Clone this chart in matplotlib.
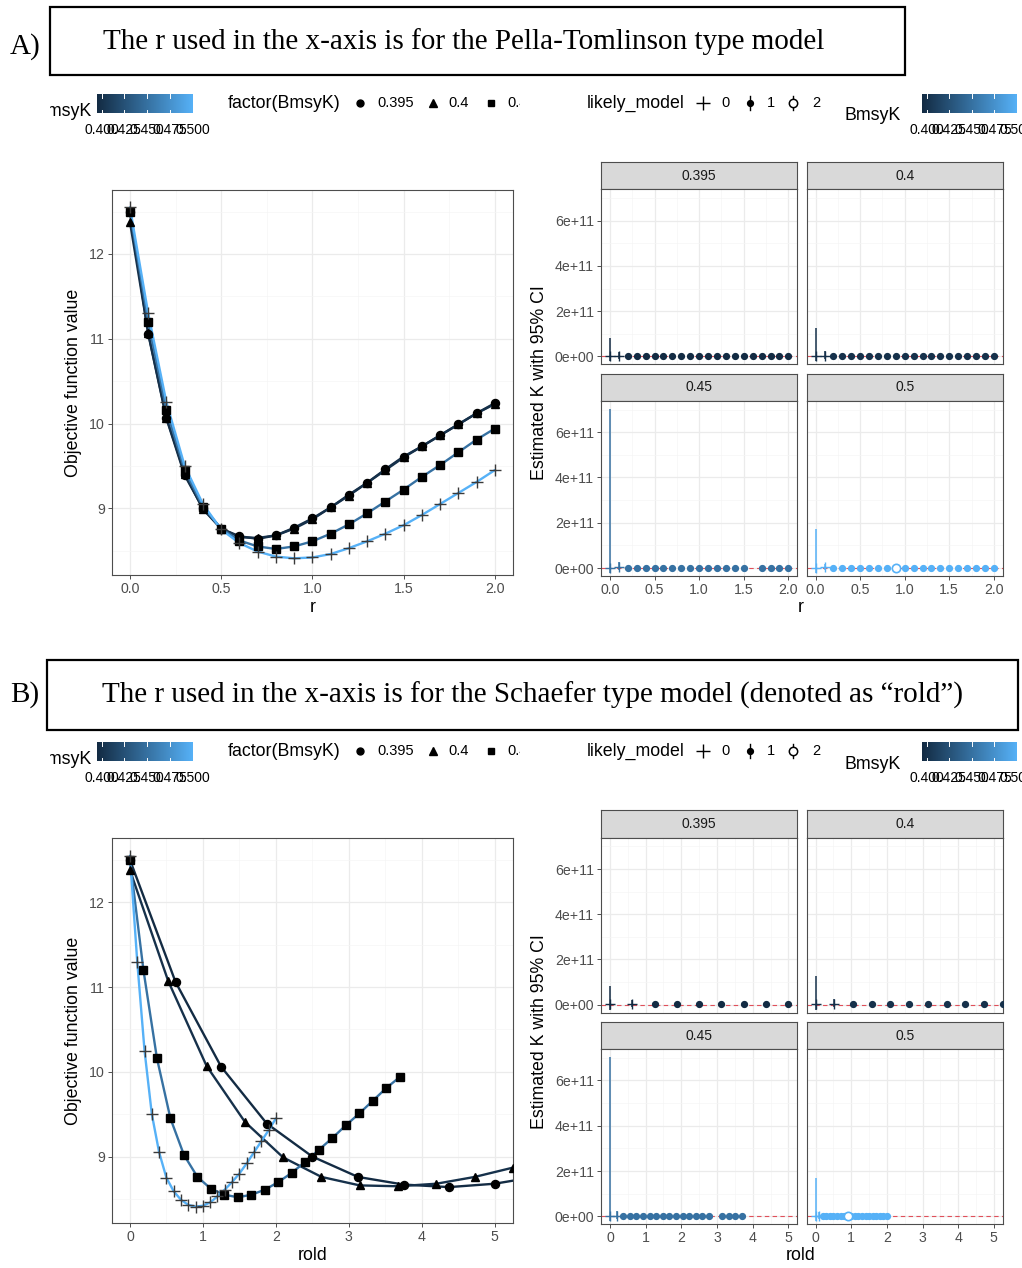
import numpy as np
import matplotlib

matplotlib.use("Agg")
import matplotlib.pyplot as plt
from matplotlib.colors import LinearSegmentedColormap, Normalize
from matplotlib.patches import Rectangle

W, H = 1022, 1268
plt.rcParams["font.family"] = ["Liberation Sans", "DejaVu Sans"]

# ---- data ---------------------------------------------------------------
BMSYK = [0.395, 0.4, 0.45, 0.5]
BMSYK_LABELS = ["0.395", "0.4", "0.45", "0.5"]
SHAPES = ["o", "^", "s", "+"]

R_GRID = [0.0, 0.1, 0.2, 0.3, 0.4, 0.5, 0.6, 0.7, 0.8, 0.9, 1.0,
          1.1, 1.2, 1.3, 1.4, 1.5, 1.6, 1.7, 1.8, 1.9, 2.0]

# r of the Schaefer model ("rold") for each BmsyK
ROLD_0395 = [0.0, 0.625, 1.25, 1.875, 2.5, 3.125, 3.75, 4.375, 5.0, 5.625, 6.25,
             6.875, 7.5, 8.125, 8.75, 9.375, 10.0, 10.625, 11.25, 11.875, 12.5]
ROLD_04 = [0.0, 0.525, 1.05, 1.575, 2.1, 2.625, 3.15, 3.675, 4.2, 4.725, 5.25,
           5.775, 6.3, 6.825, 7.35, 7.875, 8.4, 8.925, 9.45, 9.975, 10.5]
ROLD_045 = [0.0, 0.185, 0.37, 0.555, 0.74, 0.925, 1.11, 1.295, 1.48, 1.665, 1.85,
            2.035, 2.22, 2.405, 2.59, 2.775, 2.96, 3.145, 3.33, 3.515, 3.7]
ROLD_05 = [0.0, 0.1, 0.2, 0.3, 0.4, 0.5, 0.6, 0.7, 0.8, 0.9, 1.0,
           1.1, 1.2, 1.3, 1.4, 1.5, 1.6, 1.7, 1.8, 1.9, 2.0]

OBJ_0395 = [12.50, 11.06, 10.06, 9.39, 9.00, 8.76, 8.67, 8.64, 8.68, 8.77, 8.88,
            9.01, 9.16, 9.30, 9.46, 9.61, 9.73, 9.86, 9.99, 10.12, 10.24]
OBJ_04 = [12.38, 11.07, 10.07, 9.41, 8.99, 8.76, 8.66, 8.65, 8.68, 8.76, 8.87,
          9.01, 9.15, 9.30, 9.45, 9.60, 9.73, 9.86, 9.99, 10.12, 10.23]
OBJ_045 = [12.50, 11.20, 10.16, 9.45, 9.02, 8.76, 8.62, 8.55, 8.52, 8.55, 8.61,
           8.70, 8.81, 8.94, 9.08, 9.22, 9.37, 9.51, 9.66, 9.81, 9.94]
OBJ_05 = [12.55, 11.30, 10.25, 9.50, 9.05, 8.75, 8.59, 8.49, 8.43, 8.41, 8.42,
          8.46, 8.53, 8.61, 8.70, 8.80, 8.92, 9.05, 9.18, 9.31, 9.45]

# estimated K (point estimates, all close to zero on the 1e11 scale)
K_0395 = [2e9, 3e9, 2e9, 2e9, 2e9, 2e9, 2e9, 2e9, 2e9, 2e9, 2e9,
          2e9, 2e9, 2e9, 2e9, 2e9, 2e9, 2e9, 2e9, 2e9, 2e9]
K_04 = [2e9, 3e9, 2e9, 2e9, 2e9, 2e9, 2e9, 2e9, 2e9, 2e9, 2e9,
        2e9, 2e9, 2e9, 2e9, 2e9, 2e9, 2e9, 2e9, 2e9, 2e9]
K_045 = [2e9, 3e9, 2e9, 2e9, 2e9, 2e9, 2e9, 2e9, 2e9, 2e9, 2e9,
         2e9, 2e9, 2e9, 2e9, 2e9, np.nan, 2e9, 2e9, 2e9, 2e9]
K_05 = [2e9, 3e9, 2e9, 2e9, 2e9, 2e9, 2e9, 2e9, 2e9, 2e9, 2e9,
        2e9, 2e9, 2e9, 2e9, 2e9, 2e9, 2e9, 2e9, 2e9, 2e9]
# 95% CI limits that are visible (r = 0 and r = 0.1)
K_LOW_R0 = [-2.2e10, -2.2e10, -2.2e10, -2.2e10]
K_HIGH_R0 = [8.1e10, 1.25e11, 7.02e11, 1.71e11]
K_LOW_R01 = [-1.0e10, -1.0e10, -1.0e10, -1.0e10]
K_HIGH_R01 = [2.0e10, 2.5e10, 2.5e10, 2.0e10]

LIKELY_0395 = [0, 0, 1, 1, 1, 1, 1, 1, 1, 1, 1, 1, 1, 1, 1, 1, 1, 1, 1, 1, 1]
LIKELY_04 = [0, 0, 1, 1, 1, 1, 1, 1, 1, 1, 1, 1, 1, 1, 1, 1, 1, 1, 1, 1, 1]
LIKELY_045 = [0, 0, 1, 1, 1, 1, 1, 1, 1, 1, 1, 1, 1, 1, 1, 1, 1, 1, 1, 1, 1]
LIKELY_05 = [0, 0, 1, 1, 1, 1, 1, 1, 1, 2, 1, 1, 1, 1, 1, 1, 1, 1, 1, 1, 1]

OBJ = [OBJ_0395, OBJ_04, OBJ_045, OBJ_05]
ROLD = [ROLD_0395, ROLD_04, ROLD_045, ROLD_05]
KEST = [K_0395, K_04, K_045, K_05]
LIKELY = [LIKELY_0395, LIKELY_04, LIKELY_045, LIKELY_05]

TITLE_A = "The r used in the x-axis is for the Pella-Tomlinson type model"
TITLE_B = "The r used in the x-axis is for the Schaefer type model (denoted as \u201crold\u201d)"
CBAR_TICKS = [0.400, 0.425, 0.450, 0.475, 0.500]
CBAR_LABELS = ["0.400", "0.425", "0.450", "0.475", "0.500"]

# ---- style --------------------------------------------------------------
CMAP = LinearSegmentedColormap.from_list("gg", ["#132B43", "#56B1F7"])
NORM = Normalize(0.395, 0.5)
BORDER = "#4D4D4D"
GRID_MAJ = "#EBEBEB"
GRID_MIN = "#F5F5F5"
TICK_TXT = "#4D4D4D"
BASE = 12.8
SMALL = 10.2

fig = plt.figure(figsize=(W / 100, H / 100), dpi=100)
fig.patch.set_facecolor("white")


def px_axes(x0, y0, x1, y1, **kw):
    return fig.add_axes([x0 / W, 1 - y1 / H, (x1 - x0) / W, (y1 - y0) / H], **kw)


def style_panel(ax, xlim, xticks, xlabels, xminor, show_x, show_y,
                ylim, yticks, ylabels, yminor):
    ax.set_xlim(*xlim)
    ax.set_ylim(*ylim)
    ax.set_xticks(xticks)
    ax.set_xticks(xminor, minor=True)
    ax.set_yticks(yticks)
    ax.set_yticks(yminor, minor=True)
    ax.set_xticklabels(xlabels if show_x else [])
    ax.set_yticklabels(ylabels if show_y else [])
    ax.grid(True, which="major", color=GRID_MAJ, lw=0.9)
    ax.grid(True, which="minor", color=GRID_MIN, lw=0.5)
    ax.set_axisbelow(True)
    ax.tick_params(which="minor", length=0)
    ax.tick_params(which="major", length=3 if show_x else 0, axis="x",
                   color="#333333", width=0.6, labelsize=SMALL,
                   labelcolor=TICK_TXT, pad=2)
    ax.tick_params(which="major", length=3 if show_y else 0, axis="y",
                   color="#333333", width=0.6, labelsize=SMALL,
                   labelcolor=TICK_TXT, pad=2)
    for s in ax.spines.values():
        s.set_color(BORDER)
        s.set_linewidth(0.8)


def draw_main(dy, xs_list, xlim, xticks, xlabels, xminor):
    ax = px_axes(111.7, 190 + dy, 513, 575 + dy)
    for i, b in enumerate(BMSYK):
        ax.plot(xs_list[i], OBJ[i], color=CMAP(NORM(b)), lw=1.7, zorder=2,
                solid_capstyle="round")
    for i, b in enumerate(BMSYK):
        if SHAPES[i] == "+":
            ax.plot(xs_list[i], OBJ[i], ls="none", marker="+", ms=9, mew=1.0,
                    color="#3A3A3A", zorder=3)
        else:
            ms = {"o": 5.8, "^": 6.2, "s": 5.4}[SHAPES[i]]
            ax.plot(xs_list[i], OBJ[i], ls="none", marker=SHAPES[i], ms=ms,
                    color="black", mec="black", zorder=3)
    style_panel(ax, xlim, xticks, xlabels, xminor, True, True,
                (8.213, 12.755), [9, 10, 11, 12], ["9", "10", "11", "12"],
                [8.5, 9.5, 10.5, 11.5, 12.5])
    return ax


def draw_facets(dy, xs_list, xlim, xticks, xlabels, xminor):
    cols = [(601, 797.3), (806.7, 1002.7)]
    rows = [(161.7, 189.3, 364.3), (374.0, 400.7, 576.0)]
    for i, b in enumerate(BMSYK):
        r, c = divmod(i, 2)
        st, pt, pb = rows[r]
        x0, x1 = cols[c]
        # strip
        sax = px_axes(x0, st + dy, x1, pt + dy)
        sax.set_facecolor("#D9D9D9")
        sax.set_xticks([])
        sax.set_yticks([])
        for s in sax.spines.values():
            s.set_color(BORDER)
            s.set_linewidth(0.8)
        sax.text(0.5, 0.5, BMSYK_LABELS[i], ha="center", va="center",
                 fontsize=10, color="#1A1A1A", transform=sax.transAxes)
        # panel
        ax = px_axes(x0, pt + dy, x1, pb + dy)
        col = CMAP(NORM(b))
        ax.axhline(0, color="#E0505A", lw=0.8, ls=(0, (4, 3)), zorder=1)
        xs = xs_list[i]
        ax.vlines([xs[0]], [K_LOW_R0[i]], [K_HIGH_R0[i]], color=col, lw=1.1, zorder=2)
        ax.vlines([xs[1]], [K_LOW_R01[i]], [K_HIGH_R01[i]], color=col, lw=1.1, zorder=2)
        for x, k, lm in zip(xs, KEST[i], LIKELY[i]):
            if np.isnan(k):
                continue
            if lm == 0:
                ax.plot([x], [k], ls="none", marker="+", ms=7, mew=1.0, color=col, zorder=3)
            elif lm == 1:
                ax.plot([x], [k], ls="none", marker="o", ms=4.2, color=col, zorder=3)
            else:
                ax.plot([x], [k], ls="none", marker="o", ms=6, mfc="white",
                        mec=col, mew=1.2, zorder=4)
        style_panel(ax, xlim, xticks, xlabels, xminor, r == 1, c == 0,
                    (-0.352e11, 7.39e11), [0, 2e11, 4e11, 6e11],
                    ["0e+00", "2e+11", "4e+11", "6e+11"], [1e11, 3e11, 5e11, 7e11])


def draw_legends(dy):
    # left ggplot legend strip (cropped at both sides)
    lg = px_axes(50, 85 + dy, 520, 145 + dy)
    lg.set_axis_off()
    lg.set_xlim(50, 520)
    lg.set_ylim(145 + dy, 85 + dy)
    draw_cbar(lg, 97, 193, 94 + dy, 113 + dy, 92, 111 + dy)
    lg.text(228, 103 + dy, "factor(BmsyK)", fontsize=BASE, ha="left", va="center",
            clip_on=True)
    key_x = [360, 433, 491, 560]
    lab_x = [377, 448, 507, 575]
    for i in range(4):
        m = SHAPES[i]
        ms = {"o": 5.0, "^": 5.6, "s": 5.0, "+": 8}[m]
        lg.plot([key_x[i]], [103 + dy], ls="none", marker=m, ms=ms, color="black",
                mew=1.0, clip_on=True)
        lg.text(lab_x[i], 103 + dy, BMSYK_LABELS[i], fontsize=10.5, ha="left",
                va="center", clip_on=True)
    lg.set_xlim(50, 520)
    lg.set_ylim(145 + dy, 85 + dy)

    # right ggplot legend strip
    rg = px_axes(520, 85 + dy, 1022, 145 + dy)
    rg.set_axis_off()
    rg.text(587, 103 + dy, "likely_model", fontsize=BASE, ha="left", va="center",
            clip_on=True)
    rg.plot([703], [103 + dy], ls="none", marker="+", ms=10, mew=1.0, color="black")
    rg.text(726, 103 + dy, "0", fontsize=10.5, ha="center", va="center")
    rg.plot([750, 750], [96 + dy, 110 + dy], color="black", lw=1.0)
    rg.plot([750], [103 + dy], ls="none", marker="o", ms=4.2, color="black")
    rg.text(771, 103 + dy, "1", fontsize=10.5, ha="center", va="center")
    rg.plot([793, 793], [96 + dy, 110 + dy], color="black", lw=1.0)
    rg.plot([793], [103 + dy], ls="none", marker="o", ms=6, mfc="white",
            mec="black", mew=1.1)
    rg.text(816, 103 + dy, "2", fontsize=10.5, ha="center", va="center")
    draw_cbar(rg, 922, 1017, 94 + dy, 113 + dy, 901, 116 + dy)
    rg.set_xlim(520, 1022)
    rg.set_ylim(145 + dy, 85 + dy)


def draw_cbar(ax, x0, x1, y0, y1, title_x, title_y):
    grad = np.linspace(0, 1, 256)[None, :]
    ax.imshow(grad, cmap=CMAP, extent=(x0, x1, y1, y0), aspect="auto",
              interpolation="bilinear", clip_on=True)
    for v in CBAR_TICKS:
        x = x0 + (v - 0.395) / 0.105 * (x1 - x0)
        ax.plot([x, x], [y0, y0 + 3.5], color="white", lw=0.7, clip_on=True)
        ax.plot([x, x], [y1 - 3.5, y1], color="white", lw=0.7, clip_on=True)
    for v, lab in zip(CBAR_TICKS, CBAR_LABELS):
        x = x0 + (v - 0.395) / 0.105 * (x1 - x0)
        ax.text(x, y1 + 17, lab, fontsize=10, ha="center", va="center",
                clip_on=True)
    ax.text(title_x, title_y, "BmsyK", fontsize=BASE, ha="right", va="center",
            clip_on=True)


def draw_block(dy, xs_list, xlim, xticks, xlabels, xminor, xname):
    draw_main(dy, xs_list, xlim, xticks, xlabels, xminor)
    draw_facets(dy, xs_list, xlim, xticks, xlabels, xminor)
    draw_legends(dy)
    fig.text(73 / W, 1 - (383 + dy) / H, "Objective function value", rotation=90,
             fontsize=BASE, ha="center", va="center")
    fig.text(540 / W, 1 - (383 + dy) / H, "Estimated K with 95% CI", rotation=90,
             fontsize=BASE, ha="center", va="center")
    fig.text(313 / W, 1 - (607 + dy) / H, xname, fontsize=BASE, ha="center", va="center")
    fig.text(801 / W, 1 - (607 + dy) / H, xname, fontsize=BASE, ha="center", va="center")


draw_block(0, [R_GRID] * 4, (-0.1, 2.1),
           [0, 0.5, 1.0, 1.5, 2.0], ["0.0", "0.5", "1.0", "1.5", "2.0"],
           [0.25, 0.75, 1.25, 1.75], "r")
draw_block(648.3, ROLD, (-0.25, 5.25),
           [0, 1, 2, 3, 4, 5], ["0", "1", "2", "3", "4", "5"],
           [0.5, 1.5, 2.5, 3.5, 4.5], "rold")

# overlay with the two title boxes
ov = fig.add_axes([0, 0, 1, 1])
ov.set_axis_off()
ov.set_xlim(0, W)
ov.set_ylim(H, 0)
ov.patch.set_alpha(0)
serif = ["Liberation Serif", "DejaVu Serif"]
ov.add_patch(Rectangle((50, 7), 855, 68, fill=False, ec="black", lw=1.6))
ov.text(464, 42, TITLE_A, family=serif, fontsize=21, ha="center", va="center")
ov.text(25, 47, "A)", family=serif, fontsize=21, ha="center", va="center")
ov.add_patch(Rectangle((47, 660), 971, 70, fill=False, ec="black", lw=1.6))
ov.text(532, 695, TITLE_B, family=serif, fontsize=21, ha="center", va="center")
ov.text(25, 695, "B)", family=serif, fontsize=21, ha="center", va="center")

fig.savefig("out.png", dpi=100, facecolor="white")
